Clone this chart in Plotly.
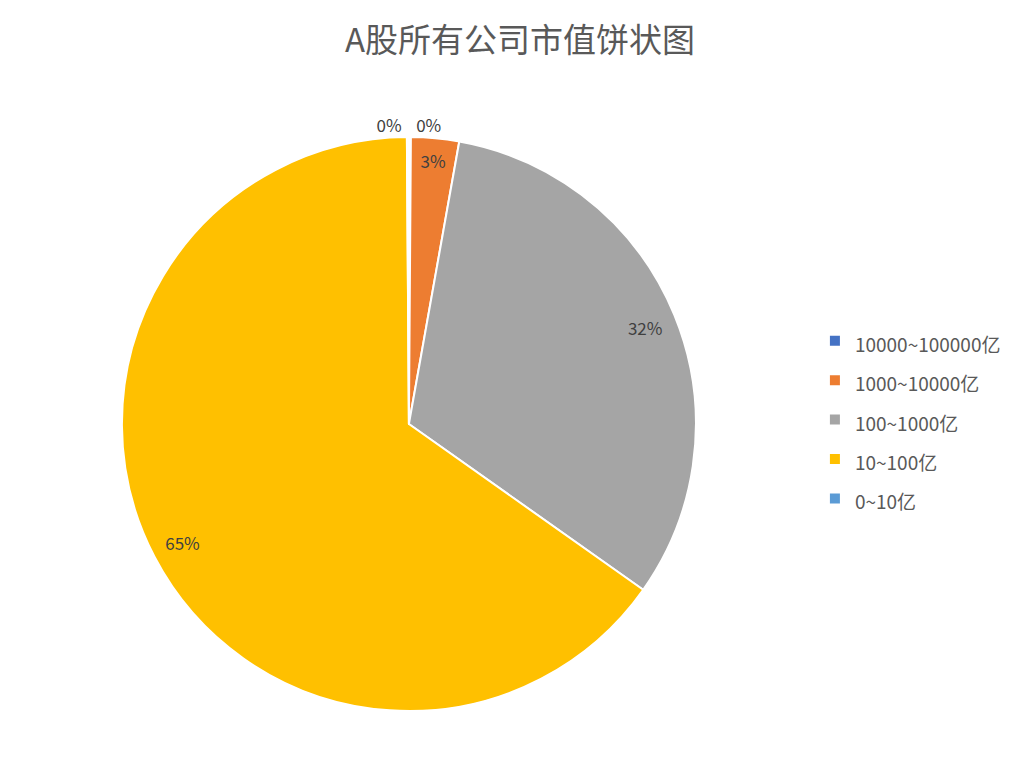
import plotly.graph_objects as go

# 市值区间与公司数量（按图中比例估算）
labels = ["10000~100000亿", "1000~10000亿", "100~1000亿", "10~100亿", "0~10亿"]
counts = [4, 97, 1150, 2340, 4]
colors = ["#4472C4", "#ED7D31", "#A5A5A5", "#FFC000", "#5B9BD5"]
is_small = [True, False, False, False, True]

FONT = "Noto Sans CJK SC"
PCT = "%{percent:.0%}"
dom = dict(x=[0.111, 0.672], y=[0.1033, 0.8354])

# 主饼图：颜色 + 图例 + 外侧的小比例标签
fig = go.Figure(go.Pie(
    labels=["<span style='font-size:19px'>%s</span>" % l for l in labels],
    values=counts,
    sort=False,
    direction="clockwise",
    rotation=0,
    marker=dict(colors=colors, line=dict(color="white", width=2)),
    texttemplate=[PCT if s else "" for s in is_small],
    textposition="outside",
    textfont=dict(family=FONT, size=17, color="#404040"),
    domain=dom,
    hoverinfo="label+value+percent",
))

# 透明环形叠加层：让内部标签靠近外缘（类似 Excel 的位置）
fig.add_trace(go.Pie(
    labels=labels,
    values=counts,
    sort=False,
    direction="clockwise",
    rotation=0,
    hole=0.78,
    marker=dict(colors=["rgba(0,0,0,0)"] * len(labels), line=dict(width=0)),
    texttemplate=["" if s else PCT for s in is_small],
    textposition="inside",
    insidetextorientation="horizontal",
    textfont=dict(family=FONT, size=17, color="#404040"),
    domain=dom,
    showlegend=False,
    hoverinfo="skip",
))

fig.update_layout(
    width=1024, height=784,
    paper_bgcolor="white",
    margin=dict(l=0, r=0, t=0, b=0),
    title=dict(text="A股所有公司市值饼状图", x=0.5, y=0.958, xanchor="center", yanchor="middle",
               font=dict(family=FONT, size=33, color="#595959")),
    legend=dict(x=0.788, y=0.607, xanchor="left", yanchor="top", valign="middle",
                font=dict(family=FONT, size=28, color="#595959")),
)

fig.write_html("out.html")
